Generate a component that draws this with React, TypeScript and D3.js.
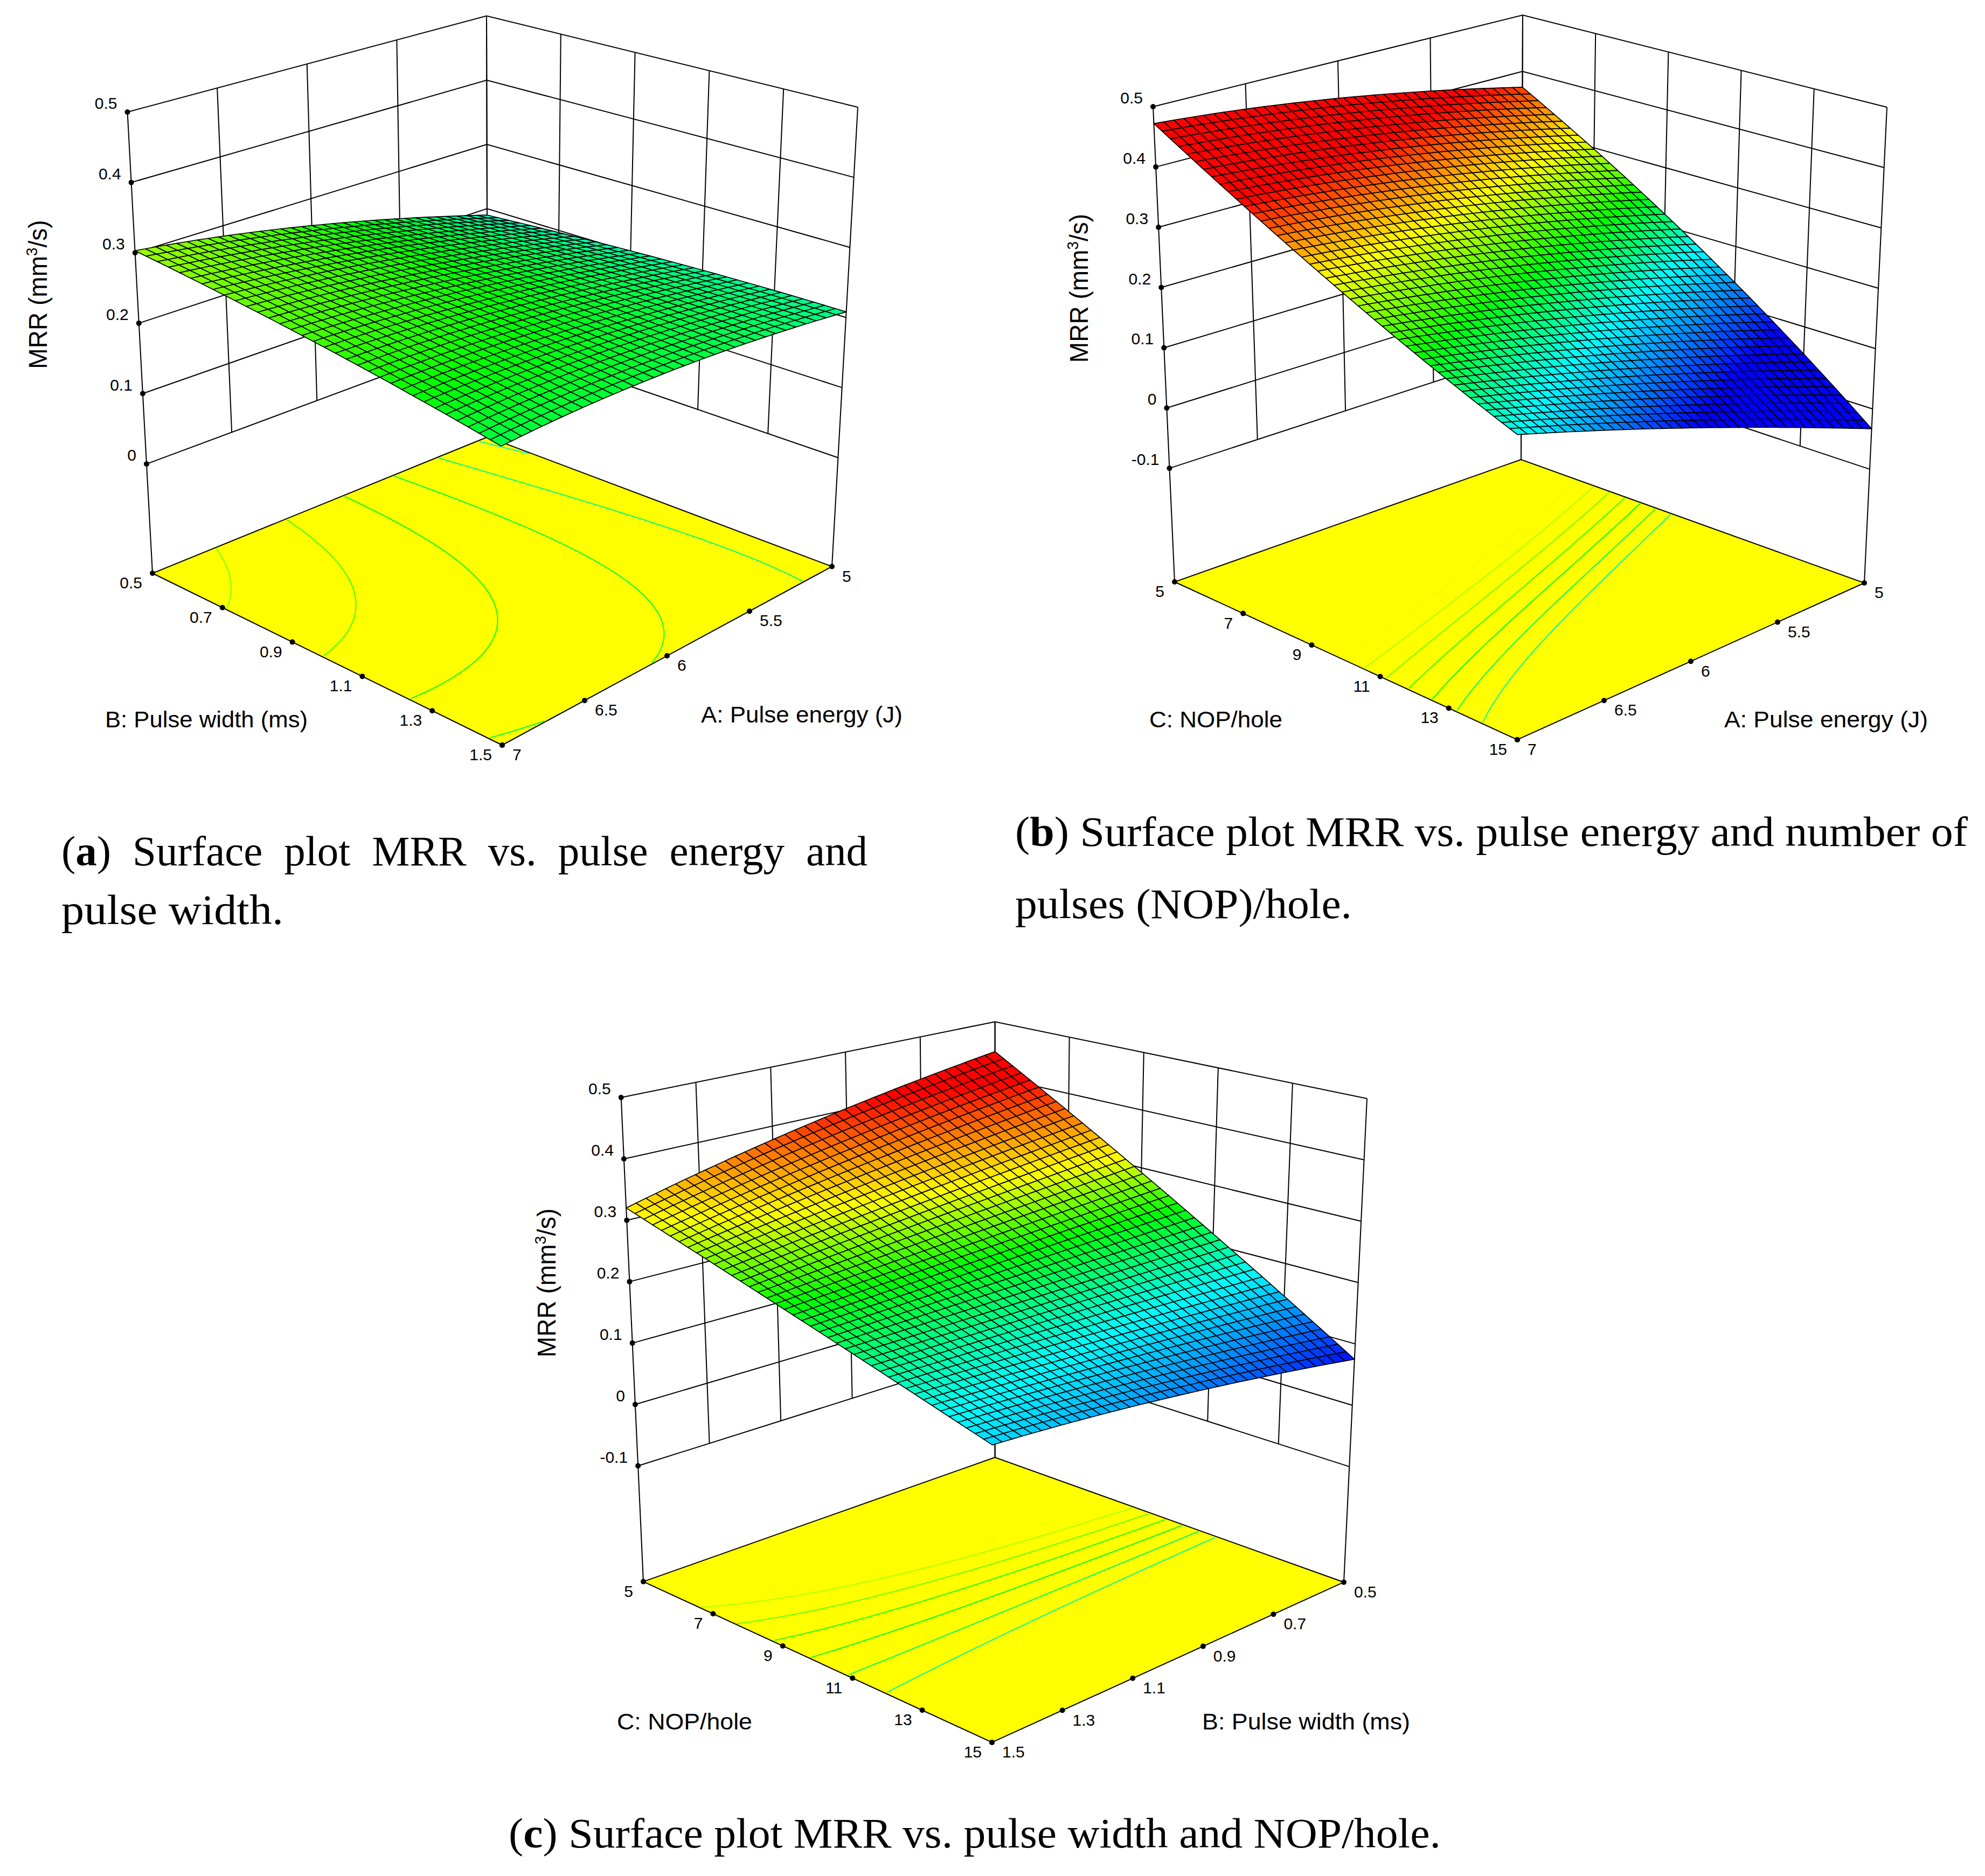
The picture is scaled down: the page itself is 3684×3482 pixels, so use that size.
import React, { useRef, useEffect } from 'react';
import * as d3 from 'd3';

// MRR: rows = first factor (low, mid, high), columns = second factor (low, mid, high)
const mrrEnergyWidth = [
  [0.19, 0.204, 0.208],
  [0.26, 0.25, 0.232],
  [0.303, 0.27, 0.2295],
];
const mrrEnergyNop = [
  [0.372, 0.18, -0.033],
  [0.436, 0.257, 0.085],
  [0.472, 0.307, 0.183],
];
const mrrWidthNop = [
  [0.446, 0.255, 0.075],
  [0.39, 0.245, 0.127],
  [0.32, 0.236, 0.158],
];

const energyTicks = [5, 5.5, 6, 6.5, 7];
const widthTicks = [0.5, 0.7, 0.9, 1.1, 1.3, 1.5];
const nopTicks = [5, 7, 9, 11, 13, 15];
const mrrTicksShort = [0, 0.1, 0.2, 0.3, 0.4, 0.5];
const mrrTicksLong = [-0.1, 0, 0.1, 0.2, 0.3, 0.4, 0.5];

const levelsA = [0.29, 0.271, 0.252, 0.233, 0.214, 0.195];
const levelsB = [0.31, 0.2925, 0.275, 0.2575, 0.24, 0.2225, 0.205];
const levelsC = [0.31, 0.2925, 0.275, 0.2575, 0.24, 0.2225, 0.205];

// MRR values where each panel's surface turns blue, cyan, green, yellow, red
const stopsA = [0.085, 0.175, 0.25, 0.335, 0.42];
const stopsB = [0.085, 0.18, 0.245, 0.315, 0.39];
const stopsC = [0.07, 0.175, 0.25, 0.312, 0.41];
const colorNames = ['#0000ff', '#00ffff', '#00ff00', '#ffff00', '#ff0000'];

const CONTOUR_GRID = 300;

const panels = [
  {
    values: mrrEnergyWidth, levels: levelsA, stops: stopsA, cells: [34, 33], zTicks: mrrTicksShort, zFloor: -0.1553,
    sTicks: energyTicks, rTicks: widthTicks,
    top: { b: [903, 29.5], l: [236.5, 208], r: [1592, 199], f: [929, 438] },
    floor: { b: [905, 811], l: [283, 1064], r: [1544, 1051.5], f: [932, 1383] },
    mrrLabel: [87, 546.5],
    leftTitle: { text: 'B: Pulse width (ms)', x: 195, y: 1350, len: 376 },
    rightTitle: { text: 'A: Pulse energy (J)', x: 1301, y: 1341, len: 374 },
  },
  {
    values: mrrEnergyNop, levels: levelsB, stops: stopsB, cells: [37, 45], zTicks: mrrTicksLong, zFloor: -0.2885,
    sTicks: energyTicks, rTicks: nopTicks,
    top: { b: [2826, 28], l: [2140, 198], r: [3502, 199], f: [2817, 426] },
    floor: { b: [2823, 853], l: [2180, 1080], r: [3460, 1082], f: [2816, 1373] },
    mrrLabel: [2019, 535],
    leftTitle: { text: 'C: NOP/hole', x: 2133, y: 1350, len: 247 },
    rightTitle: { text: 'A: Pulse energy (J)', x: 3200, y: 1350, len: 378 },
  },
  {
    values: mrrWidthNop, levels: levelsC, stops: stopsC, cells: [37, 42], zTicks: mrrTicksLong, zFloor: -0.2885,
    sTicks: widthTicks, rTicks: nopTicks,
    top: { b: [1846.6, 1896.5], l: [1152.7, 2037], r: [2537, 2039], f: [1842, 2259] },
    floor: { b: [1846.6, 2705], l: [1194, 2935.6], r: [2494, 2936.7], f: [1841, 3234] },
    mrrLabel: [1031, 2381],
    leftTitle: { text: 'C: NOP/hole', x: 1145, y: 3210, len: 251 },
    rightTitle: { text: 'B: Pulse width (ms)', x: 2231, y: 3210, len: 386 },
  },
];

const captions = [
  { tag: 'a', rest: ') Surface plot MRR vs. pulse energy and', x: 114, y: 1606, len: 1496, gap: 20 },
  { text: 'pulse width.', x: 114, y: 1715, len: 412, gap: 0 },
  { tag: 'b', rest: ') Surface plot MRR vs. pulse energy and number of', x: 1884, y: 1570, len: 1768, gap: 0 },
  { text: 'pulses (NOP)/hole.', x: 1884, y: 1704, len: 625, gap: 0 },
  { tag: 'c', rest: ') Surface plot MRR vs. pulse width and NOP/hole.', x: 944, y: 3429, len: 1730, gap: 0 },
];

const SANS = '"Liberation Sans", Arial, sans-serif';
const SERIF = '"Liberation Serif", "Times New Roman", serif';

// smooth patch through the 3x3 read values
const basis = (t) => [2 * (t - 0.5) * (t - 1), -4 * t * (t - 1), 2 * t * (t - 0.5)];
const sampleSurface = (values, s, r) => {
  const bs = basis(s), br = basis(r);
  let z = 0;
  for (let i = 0; i < 3; i++) for (let j = 0; j < 3; j++) z += bs[i] * br[j] * values[i][j];
  return z;
};

const bilinear = (q, s, r, k) =>
  (1 - s) * (1 - r) * q.b[k] + s * (1 - r) * q.l[k] + (1 - s) * r * q.r[k] + s * r * q.f[k];

const App = () => {
  const svgRef = useRef();

  useEffect(() => {
    const svg = d3.select(svgRef.current);
    svg.selectAll('*').remove();

    const line = d3.line();

    panels.forEach((p) => {
      const g = svg.append('g');
      const color = d3.scaleLinear().domain(p.stops).range(colorNames).clamp(true);
      const sScale = d3.scaleLinear().domain(d3.extent(p.sTicks)).range([0, 1]);
      const rScale = d3.scaleLinear().domain(d3.extent(p.rTicks)).range([0, 1]);
      const zScale = d3.scaleLinear().domain([p.zFloor, 0.5]).range([0, 1]);

      const project = (s, r, w) => [
        (1 - w) * bilinear(p.floor, s, r, 0) + w * bilinear(p.top, s, r, 0),
        (1 - w) * bilinear(p.floor, s, r, 1) + w * bilinear(p.top, s, r, 1),
      ];

      // walls: horizontal lines run left corner -> back -> right corner
      const wLow = zScale(p.zTicks[0]);
      g.selectAll('.level').data(p.zTicks).enter().append('path')
        .attr('d', (z) => line([project(1, 0, zScale(z)), project(0, 0, zScale(z)), project(0, 1, zScale(z))]))
        .attr('fill', 'none').attr('stroke', '#000').attr('stroke-width', 2);
      g.selectAll('.sv').data(p.sTicks).enter().append('path')
        .attr('d', (t) => {
          const s = sScale(t);
          return line([project(s, 0, 1), project(s, 0, s === 0 || s === 1 ? 0 : wLow)]);
        })
        .attr('fill', 'none').attr('stroke', '#000').attr('stroke-width', 2);
      g.selectAll('.rv').data(p.rTicks).enter().append('path')
        .attr('d', (t) => {
          const r = rScale(t);
          return line([project(0, r, 1), project(0, r, r === 0 || r === 1 ? 0 : wLow)]);
        })
        .attr('fill', 'none').attr('stroke', '#000').attr('stroke-width', 2);

      // floor
      const floorPath = line([project(0, 0, 0), project(1, 0, 0), project(1, 1, 0), project(0, 1, 0)]) + 'Z';
      g.append('path').attr('d', floorPath).attr('fill', '#ffff00');

      // contours on the floor
      const grid = new Float64Array(CONTOUR_GRID * CONTOUR_GRID);
      for (let j = 0; j < CONTOUR_GRID; j++) {
        for (let i = 0; i < CONTOUR_GRID; i++) {
          grid[j * CONTOUR_GRID + i] = sampleSurface(p.values, (j + 0.5) / CONTOUR_GRID, (i + 0.5) / CONTOUR_GRID);
        }
      }
      const contours = d3.contours().size([CONTOUR_GRID, CONTOUR_GRID]).thresholds(p.levels)(grid);
      const onEdge = ([x, y]) => x < 1 || y < 1 || x > CONTOUR_GRID - 1 || y > CONTOUR_GRID - 1;
      contours.forEach((c) => {
        let d = '';
        c.coordinates.forEach((poly) => poly.forEach((ring) => {
          for (let i = 1; i < ring.length; i++) {
            if (onEdge(ring[i - 1]) || onEdge(ring[i])) continue;
            const a = project(ring[i - 1][1] / CONTOUR_GRID, ring[i - 1][0] / CONTOUR_GRID, 0);
            const b = project(ring[i][1] / CONTOUR_GRID, ring[i][0] / CONTOUR_GRID, 0);
            d += line([a, b]);
          }
        }));
        g.append('path').attr('d', d).attr('fill', 'none')
          .attr('stroke', color(c.value)).attr('stroke-width', 2);
      });
      g.append('path').attr('d', floorPath).attr('fill', 'none').attr('stroke', '#000').attr('stroke-width', 2);

      // surface mesh, far cells first
      const [sCells, rCells] = p.cells;
      const cells = d3.cross(d3.range(sCells), d3.range(rCells));
      const node = (i, j) => {
        const s = i / sCells, r = j / rCells;
        return project(s, r, zScale(sampleSurface(p.values, s, r)));
      };
      g.append('g').selectAll('path').data(cells).enter().append('path')
        .attr('d', ([i, j]) => line([node(i, j), node(i + 1, j), node(i + 1, j + 1), node(i, j + 1)]) + 'Z')
        .attr('fill', ([i, j]) => color(sampleSurface(p.values, (i + 0.5) / sCells, (j + 0.5) / rCells)))
        .attr('stroke', '#000').attr('stroke-width', 1.7).attr('stroke-linejoin', 'round');

      // tick dots and labels
      const tickFont = (sel) => sel.attr('font-family', SANS).attr('font-size', 30).attr('fill', '#000');
      const dot = (pt) => g.append('circle').attr('cx', pt[0]).attr('cy', pt[1]).attr('r', 5).attr('fill', '#000');

      p.zTicks.forEach((z) => {
        const pt = project(1, 0, zScale(z));
        dot(pt);
        tickFont(g.append('text')).attr('x', pt[0] - 19).attr('y', pt[1] - 6)
          .attr('text-anchor', 'end').text(String(z));
      });
      p.rTicks.forEach((t) => {
        const pt = project(1, rScale(t), 0);
        dot(pt);
        tickFont(g.append('text')).attr('x', pt[0] - 19).attr('y', pt[1] + 28)
          .attr('text-anchor', 'end').text(String(t));
      });
      p.sTicks.forEach((t) => {
        const pt = project(sScale(t), 1, 0);
        dot(pt);
        tickFont(g.append('text')).attr('x', pt[0] + 19).attr('y', pt[1] + 28)
          .attr('text-anchor', 'start').text(String(t));
      });

      // axis titles
      [p.leftTitle, p.rightTitle].forEach((t) => {
        g.append('text').attr('x', t.x).attr('y', t.y).attr('font-family', SANS).attr('font-size', 42)
          .attr('textLength', t.len).attr('lengthAdjust', 'spacingAndGlyphs').text(t.text);
      });
      const mrr = g.append('text')
        .attr('transform', `translate(${p.mrrLabel[0]},${p.mrrLabel[1]}) rotate(-90) scale(0.96,1)`)
        .attr('text-anchor', 'middle').attr('font-family', SANS).attr('font-size', 48);
      mrr.append('tspan').text('MRR (mm');
      mrr.append('tspan').attr('font-size', 29).attr('dy', -18).text('3');
      mrr.append('tspan').attr('dy', 18).text('/s)');
    });

    // captions under each panel
    captions.forEach((c) => {
      const t = svg.append('text').attr('x', c.x).attr('y', c.y).attr('font-family', SERIF)
        .attr('font-size', 78).attr('word-spacing', c.gap)
        .attr('textLength', c.len).attr('lengthAdjust', 'spacingAndGlyphs');
      if (c.tag) {
        t.append('tspan').text('(');
        t.append('tspan').attr('font-weight', 'bold').text(c.tag);
        t.append('tspan').text(c.rest);
      } else {
        t.text(c.text);
      }
    });
  }, []);

  return (
    <svg
      ref={svgRef}
      width={3684}
      height={3482}
      style={{ position: 'absolute', left: 0, top: 0, background: '#fff' }}
    />
  );
};

export default App;
